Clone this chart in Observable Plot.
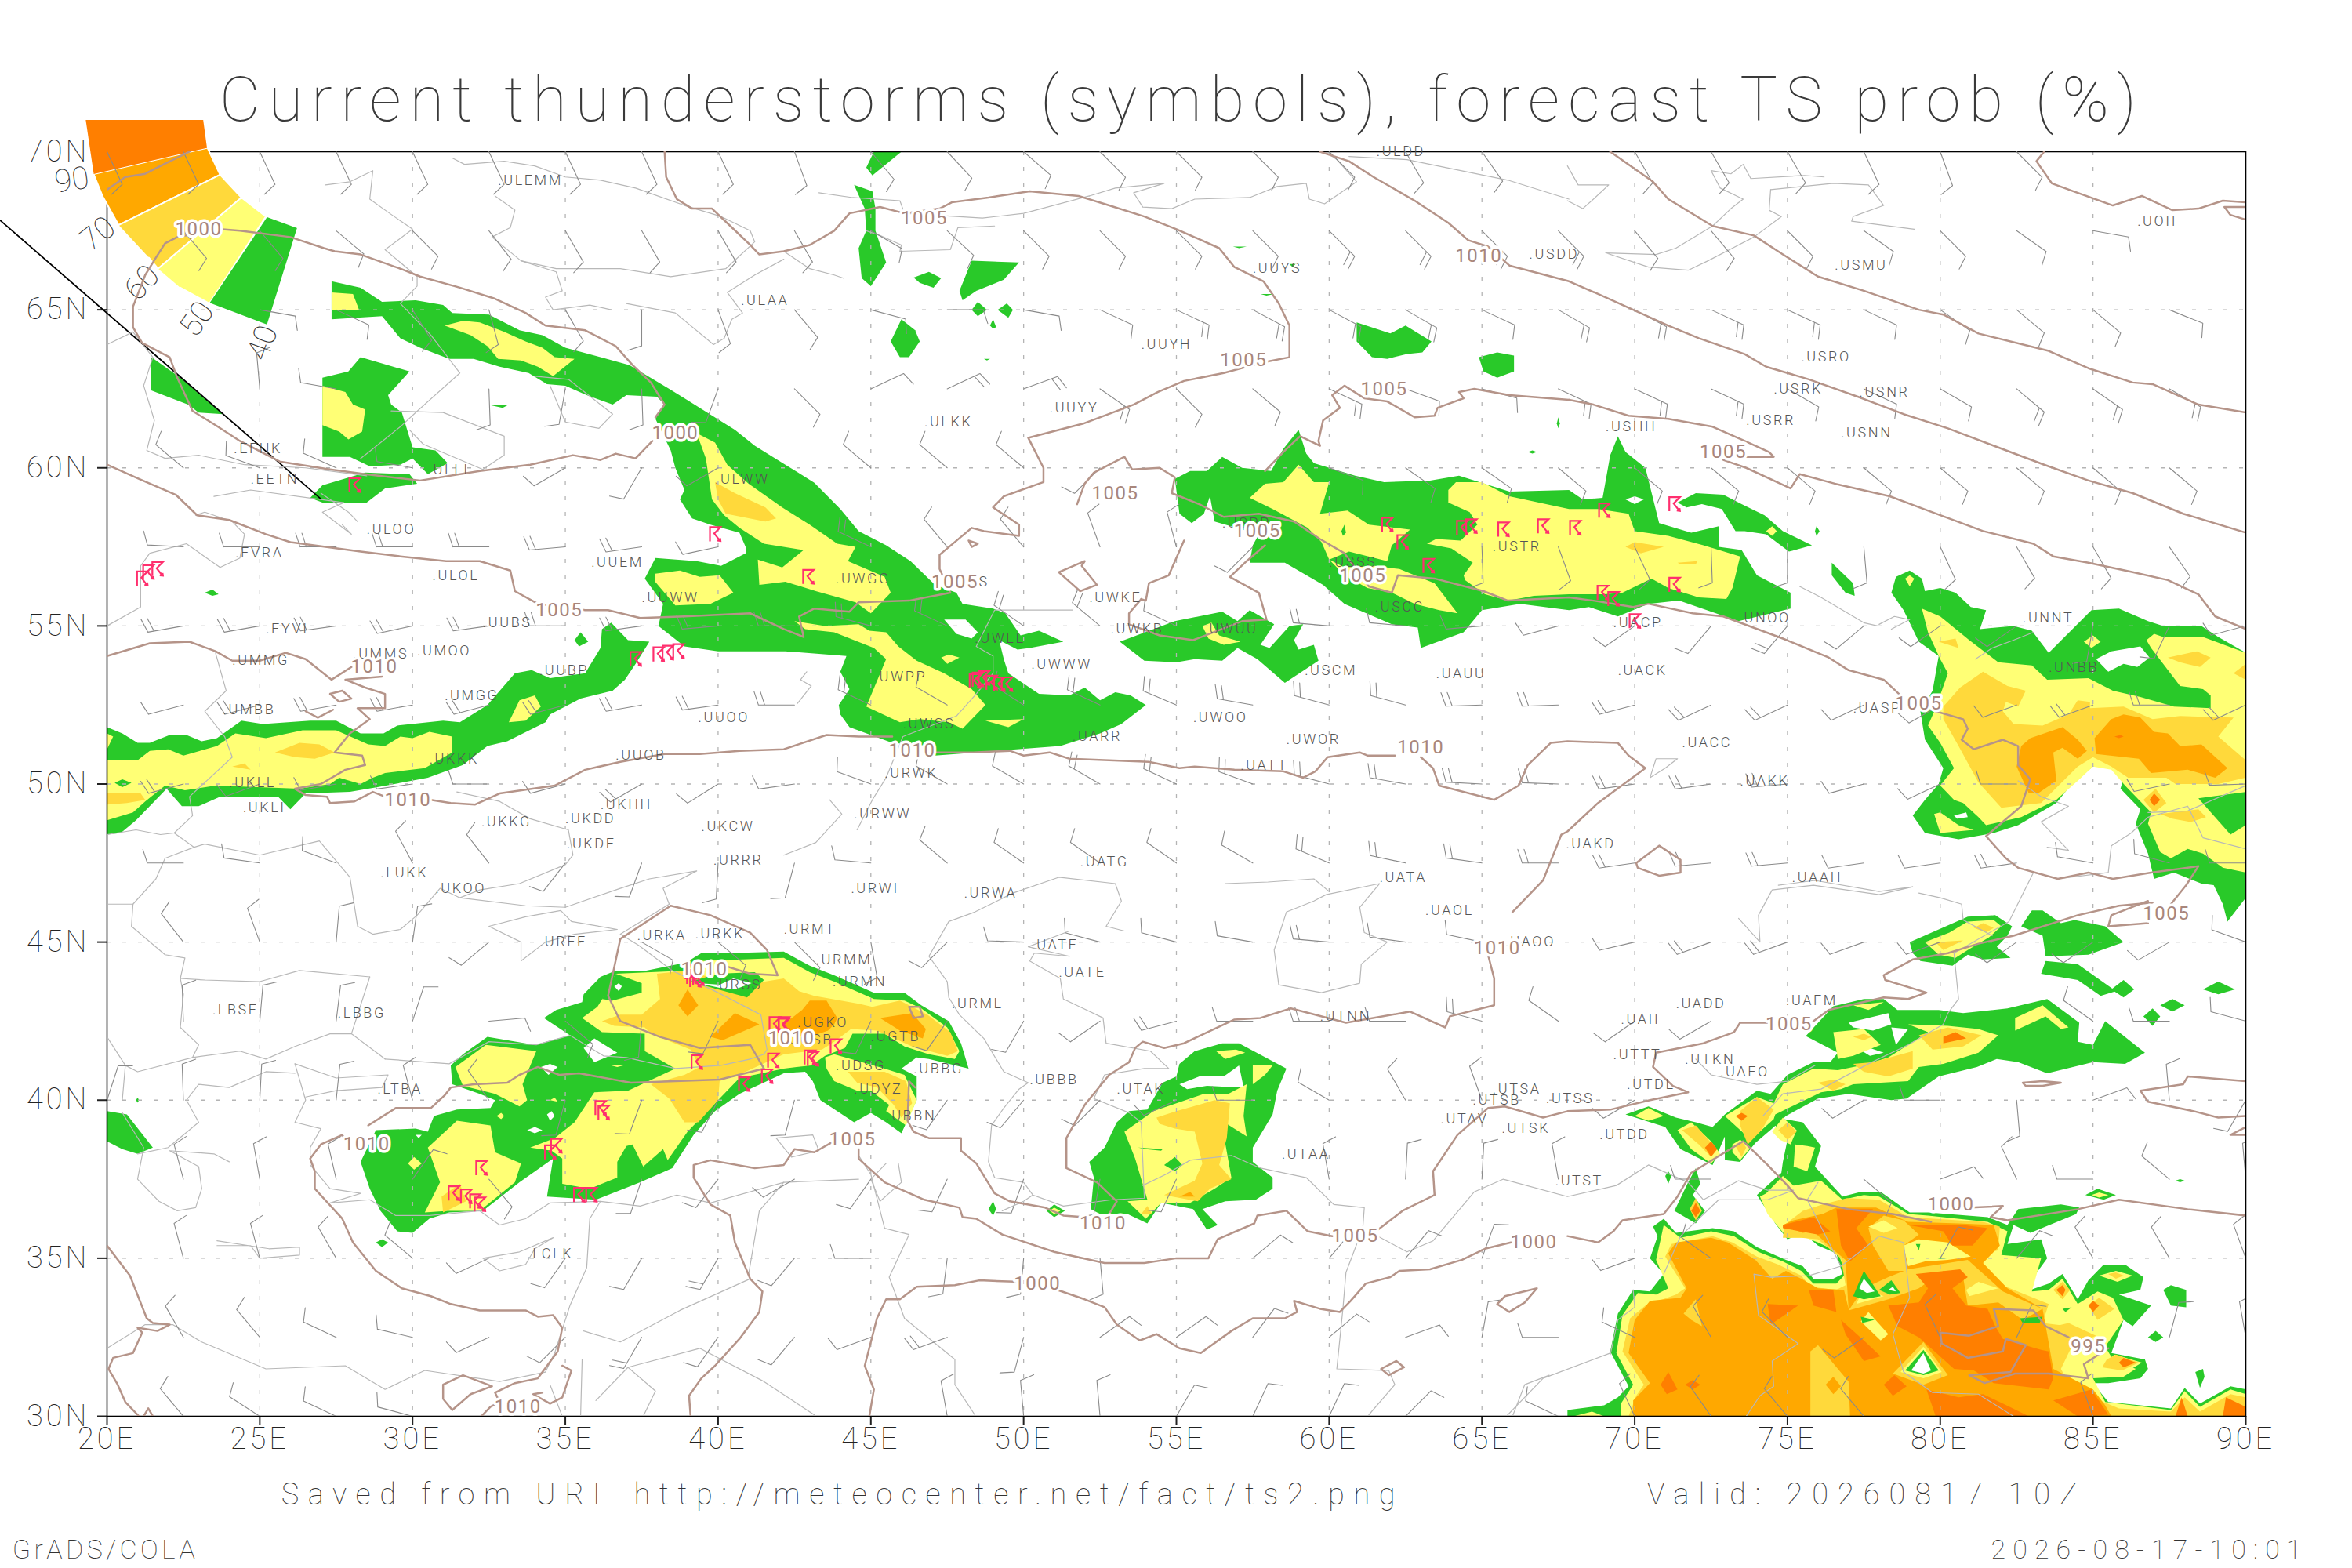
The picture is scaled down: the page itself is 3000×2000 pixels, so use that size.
<!DOCTYPE html><html><head><meta charset="utf-8"><style>html,body{margin:0;background:#fff}</style>
<script src="https://cdn.jsdelivr.net/npm/d3@7"></script><script src="https://cdn.jsdelivr.net/npm/@observablehq/plot@0.6"></script></head><body><script>
const lonTicks=[20,25,30,35,40,45,50,55,60,65,70,75,80,85,90];
const latTicks=[30,35,40,45,50,55,60,65,70];
const probColors={p40:"#29c929",p50:"#ffff75",p60:"#ffd93b",p70:"#ffa800",p80:"#ff7f00"};
const prob40=[
[27.35,65.9,28.3,65.7,29,65.25,30.1,65.3,31,65.15,31.3,64.9,32.5,64.85,33.5,64.35,34.25,64.2,35,63.8,36.15,63.5,37.1,63.25,38.4,62.5,39.4,61.9,40.55,61.2,41.2,60.7,42.2,60.1,43.15,59.53,44,58.7,44.6,58,45.5,57.55,46.3,57.05,47.1,56.3,47.8,56.05,48,55.7,49,55.55,49.4,55.4,49.9,54.7,50.5,54.85,51.3,54.5,50.2,54.3,49.8,54.25,49.2,54.55,49.35,53.95,49.5,53.5,50.5,52.85,51.5,52.8,52,53.05,52.5,52.65,53,52.9,53.5,52.8,54,52.5,53.2,51.9,52.5,51.6,51.2,51.2,47.1,50.9,47,51.2,45.7,51.3,44.3,51.8,44,52.2,43.95,52.5,44.3,53,44,53.55,44.2,54.05,42.2,54.2,40,54.2,38.9,54.35,38.05,55,38.2,55.7,37.6,56.5,37.95,57.15,39.3,57.05,40.1,56.9,40.9,57.3,40.9,57.5,40.7,57.95,39.75,58.2,39.15,58.4,38.75,59,38.9,59.3,38.6,60,38.45,60.55,37.95,61.55,38.25,62,38,62.25,37,62.3,36.55,62,35.7,62.3,35,62.6,34.4,62.65,33.8,63,32.85,63.2,32,63.45,31.2,63.45,30.25,63.8,29.6,64.1,29,64.8,27.35,64.7],
[20,51.8,20.5,51.6,21,51.3,21.4,51.3,22.05,51.55,22.6,51.55,23.1,51.35,23.6,51.45,24.4,52,25.1,51.9,26.65,52,27.5,52,28.3,51.6,29.05,51.6,29.5,51.85,31,52,31.55,51.95,32.45,52.5,33.35,53.5,33.9,53.6,34.5,53.35,35.65,53.5,36.15,54.3,36.2,54.9,36.5,55.1,37.05,54.55,37.75,54.5,37.3,53.8,36.95,53.3,36.55,52.95,35.5,52.7,34.5,52.2,34.35,51.95,33.1,51.35,32.45,51.2,31.65,50.6,30.5,50.2,28.85,49.9,27.95,49.75,26.5,49.7,26,49.2,25.6,49.6,23.7,49.6,23,49.3,22.45,49.3,21.95,49.85,20.95,48.85,20.45,48.45,20,48.4],
[35.3,54.55,35.5,54.8,35.75,54.5,35.45,54.35],[23.2,56.05,23.45,56.15,23.65,56,23.45,55.95],
[21.45,63.5,22.4,62.85,23,62.35,23.8,61.7,23,61.75,22.65,62,21.45,62.45],
[27.05,62.85,27.9,63.05,28.3,63.5,29.9,63.05,29.2,62.3,29.3,62,29.65,61.75,30,60.65,30.75,60.55,31.15,60.15,30.5,59.8,30,60.3,29.6,60.1,28.6,60.05,27.95,60.35,27.05,60.35],
[26.65,59.05,27.05,59.45,28.45,59.85,29.9,59.8,30.15,59.5,29.1,59.35,28.5,58.9,27.05,58.9],
[32.45,62,33.15,62,32.95,61.9],
[45.1,70,46,70,45.05,69.25,44.85,69.5],
[44.45,68.95,45.05,68.75,45.15,68.2,45.15,67.5,45.5,66.5,45,65.75,44.7,66,44.6,66.95,44.85,67.5,44.8,68.2],
[46.4,66.02,46.9,66.2,47.3,66,47.05,65.7,46.6,65.85],
[48.3,66.55,49.85,66.5,49.35,65.95,48.45,65.6,48,65.3,47.9,65.6],
[48.3,65,48.5,65.25,48.8,65,48.5,64.8],[49.15,65,49.45,65.2,49.65,65,49.5,64.75],[48.9,64.5,49,64.7,49.1,64.45,49,64.4],
[45.65,64,46,64.7,46.45,64.35,46.6,64,46.25,63.5,45.95,63.5],
[48.7,63.45,48.9,63.45,48.8,63.4],[56.85,67,57.3,67,57.05,66.95],[57.75,65.5,58.2,65.5,57.95,65.45],[58.7,66.45,58.9,66.45,58.8,66.35],
[60.9,64.6,62,64.25,62.5,64.5,63.35,64,63.05,63.65,62.55,63.6,61.9,63.45,61.4,63.5,60.9,64],
[64.9,63.5,65.5,63.65,66.05,63.55,66.05,63.05,65.5,62.85,65.05,63.05],
[67.45,61.4,67.5,61.6,67.55,61.4,67.5,61.25],[66.5,60.5,66.65,60.55,66.8,60.5,66.65,60.45],
[54.95,59.65,55.45,59.9,56,59.9,56.5,60.35,57.15,60,58.1,59.9,58.5,60.6,59,61.2,59.25,60.45,59.5,60.15,60.85,59.75,61.8,59.55,63.3,59.6,64.25,59.75,65.9,59.25,67.85,59.3,68.3,59,68.95,59.05,69.2,60.4,69.45,61,69.7,60.5,70.35,60,70.8,58.25,71.85,57.95,72.75,58.15,72.75,57.5,73.5,57.4,74,56.6,75.1,56.05,75.1,55.55,73.4,55.15,71.45,55.8,70.45,55.7,69.45,55.3,68.5,55.6,67.85,55.5,66.25,55.7,65,55.5,64.4,54.8,63,54.3,62.9,54.95,62.05,55.05,60.5,55.7,59.8,56.3,58.55,57,57.4,57,57.5,57.55,57.7,57.9,56.25,58.3,56.1,59.1,55.9,58.55,55.5,58.25,55.1,58.55],
[71.4,58.9,72,59.2,72.9,59.15,73.5,58.85,74.25,58.5,74.85,58,75.8,57.55,75.05,57.35,74.3,57.9,73.6,58,73.3,58,72.85,58.7,72.2,58.85,71.7,58.75],
[53.15,54.5,54.95,55.15,56.5,55.45,57,55.15,57.4,55.5,58.2,55.05,57.75,54.4,58.05,54.3,58.7,55,59.15,55.05,58.85,54.55,59,54.25,59.5,54.4,59.65,53.9,58.55,53.2,57.65,53.95,57,54.3,56.5,53.9,55.6,53.95,55,53.85,53.95,53.9],
[76.45,57,77.15,56.35,77.2,55.95,76.9,56.05,76.45,56.6],[75.9,58,75.95,58.15,76.05,58,75.95,57.85],
[78.4,56.05,78.55,56.55,79,56.75,79.4,56.5,79.5,56.1,80,56.2,80.5,56.05,81,55.6,81.5,55.5,81.3,54.9,82.4,55,83,54.85,83.55,54.15,84.95,55.5,85.85,55.55,86.8,55.15,87.3,55,88.55,55,89.1,54.65,90,54.15,90,46.4,89.4,45.65,89.25,46.2,88.95,46.8,88.55,46.85,87.65,47.2,87,47,86.8,47.8,86.4,48.75,86.55,49.2,85.9,49.85,86,50.2,85.5,50.55,85,50.55,84.35,50.05,83.8,49.4,82.55,48.7,81.75,48.45,80.6,48.25,79.5,48.45,79.1,49,79.5,49.5,79.95,50,80.1,50.5,79.5,51.4,79.35,52.3,79.75,52.95,79.95,54.05,79.3,54.5,78.8,55.5],
[79,45,80.9,45.8,81.8,45.85,82.35,45.5,82.2,45.2,81.85,44.85,82.3,44.5,81.4,44.45,80.9,44.6,80.4,44.25,79.35,44.4,79.1,44.65],
[82.65,45.5,83,46,83.35,46,83.95,45.6,84.4,45.7,85.4,45.5,86,45,84.85,44.6,83.45,44.55,83.35,45.2],
[83.45,44.4,84.5,44.3,85.75,43.45,85.25,43.3,84.5,43.8,83.3,44],
[85.6,43.5,86,43.8,86.35,43.5,86,43.25],[87.2,43,87.6,43.2,88,43,87.6,42.8],[88.6,43.5,89.1,43.75,89.65,43.5,89.1,43.35],[86.65,42.65,86.95,42.9,87.2,42.65,86.95,42.35],
[75.6,42.03,76.5,42.97,77.5,43.2,78.15,43.2,78.6,42.85,79.95,42.85,80.75,42.75,82.2,42.9,83.5,43.2,84.55,42.45,84.5,41.85,85,41.75,85.4,42.5,86.7,41.5,86.05,41.15,85,41.2,83.5,40.85,82.55,41.2,81.85,41.3,81.2,41.05,79.95,40.75,78.9,40.05,78.4,40,77,40.2,76,40.05,74.95,39.5,74.5,39.1,73.95,38.65,73.45,38.05,72.95,38.1,72.95,38.85,72.55,37.95,71.5,38.45,71,39.15,69.7,39.55,70.45,39.8,71.35,39.45,72,39.3,72.55,39.15,72.95,39.55,74,40.3,74.45,40.2,75,40.8,75.85,41.2,76.4,41.2,76.65,41.5],
[74.55,39.45,75.5,39.3,76.1,38.55,75.9,37.9,76.8,36.95,77.4,37.1,78.05,37.1,79,36.45,79.6,36.45,81.55,36.3,82.2,36.05,82.55,36.55,83.95,36.7,84.55,36.6,84.45,36.4,82.95,35.8,82.4,36.05,82.2,35.45,83.3,35.6,83.5,35,83.05,34.4,82.8,33.95,83.55,34.2,84,34.5,84.5,33.7,84.85,34.3,85.35,34.8,86.05,34.8,86.65,34.4,86.55,34,85.85,33.85,86.9,33.5,86.3,32.85,86,33.05,85.6,32,86.7,31.8,86.8,31.5,86.55,31.2,85.5,31.05,85,31.05,85.5,30.45,87.55,30.25,88,30.9,88.5,30.4,89.5,30.95,90,30.85,90,30,67.8,30,67.8,30.2,69,30.35,69.45,30.6,69.8,30.95,69.2,32.05,69.45,33.25,69.95,34,70.5,33.95,70.95,34.5,70.5,35,70.75,35.7,70.6,36,70.95,36.25,71.35,35.8,72.55,35.95,73.25,35.85,74,35.35,74.95,34.95,75.5,34.75,75.85,34.35,76.5,34.35,76.8,34.5,76.6,35.15,76,35.4,75.5,35.8,75,35.6,74.6,36.1,74,37,74.8,37.7,74.85,38.05,75,38.75,74.55,39.25],
[71.3,36.5,71.75,37.4,72,37.85,72.15,37.35,71.9,37,72.3,36.5,72,36.1],
[84.75,37,85.15,37.2,85.75,37,85.35,36.85],[87.3,34,87.55,34.15,88.05,34,88.05,33.45,87.55,33.5],[86.8,32.5,87.05,32.7,87.3,32.5,87.05,32.35],[88.35,31.4,88.6,31.5,88.65,31.25,88.5,30.9],
[71,37.6,71.1,37.75,71.2,37.6,71.1,37.35],[87.7,37.45,87.85,37.5,88,37.45,87.85,37.4],
[28.3,38.05,28.8,39.05,30.1,39.1,30.5,39,30.7,39.5,31.45,39.7,32.55,39.75,32.7,40,32.2,40.2,31.3,40.5,31.25,41.1,31.65,41.45,32.45,42,34,41.75,35.15,42.05,34.3,42.6,34.7,42.85,35.55,43.1,35.6,43.35,36.15,43.9,36.65,44.1,37.65,44.1,38.95,44.35,39.45,44.65,40.3,44.65,42.15,44.7,43,44.25,43.8,43.95,45.1,43.4,46.1,43.4,46.65,43,47.55,42.5,47.95,41.8,48.2,41,46.9,41.3,46.5,41.35,46,41,46.5,40.75,46.5,40,46,38.95,45.5,39.3,45,39.6,44.45,39.3,43.35,40,43.1,40.6,42.85,40.9,42.15,40.85,40.7,40.2,39.9,39.65,39.2,38.9,38.5,37.85,37.45,37.4,36,36.85,34.4,36.95,34.6,38.15,33.5,37.4,32.3,36.5,31.2,36.45,30.55,36.25,30,35.8,29.5,35.85,28.95,36.5,28.6,37.2],
[52.15,38.05,52.65,38.5,53.05,39.3,53.45,39.65,54.05,39.7,54.55,40.55,55,40.75,55.1,41.15,55.6,41.55,56.5,41.8,57.05,41.8,58.6,41,58.3,40.3,58.15,39.55,57.75,38.9,57.5,38.5,57.5,38.05,58.15,37.55,58.15,37.2,57.6,36.85,56.6,36.8,55.85,36.55,56.35,36.05,56,35.9,55.55,36.55,54.5,36.75,54.05,36.1,53.4,36.4,52.5,36.4,52.2,36.55,52.3,37.55],
[48.85,36.55,49,36.8,49.1,36.55,49,36.35],[50.75,36.5,51,36.7,51.35,36.5,51,36.3],
[20,39.65,20.65,39.55,21.5,38.5,21,38.3,20.5,38.45,20,38.7],[28.8,35.5,29,35.6,29.2,35.5,29,35.35],[20.95,40,21,40.08,21.05,40,21,39.92]
];
const holes=[
[47.4,55.2,48.1,55.2,48.5,54.8,48.3,54.6,47.8,54.75],
[85.1,53.95,85.6,54.2,86.55,54.35,86.85,54,86.45,53.7,86,53.8,85.5,53.55],
[80.45,49,80.85,49.1,80.9,48.95,80.55,48.9],[69.7,59,70,59.1,70.3,59,70,58.85],
[77,42.45,78.3,42.75,78.4,42.4,77.8,42.2,77.15,42.3],[78.4,42.3,78.95,42.25,78.55,41.75],[77.45,41.55,77.7,41.65,78.15,41.5,77.7,41.4],
[35.6,41.65,35.95,41.95,36.7,41.5,35.95,41.2],[34.2,41.05,34.5,41.15,34.75,41.05,34.45,40.8],
[55.1,40.5,55.75,40.75,56.55,40.75,57.05,41.1,57.2,40.4,57,40.4,56,40.45,55.35,40.35]
];
const prob50=[
[27.35,65.55,28.05,65.5,28.25,65,27.35,65],
[31.05,64.5,31.65,64.65,32.2,64.6,33,64.3,33.7,64,34.25,63.8,34.65,63.5,35.3,63.45,34.6,62.9,34.1,63.2,33.55,63.4,32.8,63.45,32.45,63.85,31.9,64.2],
[39.3,61.1,39.9,60.8,40.3,60.1,41,59.5,42.1,58.75,43,58.2,43.9,57.6,44.5,57.5,44.25,57.05,45.45,56.55,45.65,56.05,45,55.4,44.5,55.75,43.2,56.1,42.2,56.4,41.35,56.3,41.3,57.1,42.1,56.85,42.8,57.4,41.5,57.6,40.7,58.1,40.2,58.5,39.8,59,39.6,60.3],
[42.5,55.15,43.5,55,44.6,55.05,44.95,54.85,45.5,54.8,45.9,54.35,46.5,53.9,47.4,53.5,48.3,53,48.75,52.5,48,51.75,47.55,51.95,46.6,52.05,45.95,51.95,44.85,52.45,45.5,53.95,45.1,54.3,43.8,54.8,42.85,54.9],
[47.3,54,47.55,54.1,47.9,54,47.5,53.8],[48.75,52,50,52.05,49.5,51.8],
[37.94,56.4,37.94,56.65,38.75,56.75,39.4,56.55,40.05,56.6,40.5,56.05,39.75,55.7,38.6,55.65],
[20,50.75,21,50.75,21.4,51.05,22,51.1,22.5,50.9,23.6,51.2,24.2,51.6,25.2,51.45,26.4,51.7,27.5,51.7,28.55,51.25,29.1,51.2,29.6,51.5,30,51.45,30.55,51.65,31.3,51.5,31.3,51,30.4,50.5,29.1,50.35,28.7,50.2,28.3,50,27.6,50.2,27.3,50,26.3,49.85,23.55,49.95,22.55,49.8,21.9,49.95,21.25,49.45,20.85,49.1,20,48.85],
[20,51.6,20.2,51.5,20,51.1],[33.5,52.65,34,52.8,34.2,52.45,33.7,52,33.15,51.95],
[27.05,62.6,27.8,62.4,28.05,62,28.45,61.85,28.35,61.15,27.9,60.9,27.6,61.15,27.05,61.35],
[57.4,59.05,57.9,59.5,58.5,59.55,59,60.1,59.5,59.55,60,59.55,59.7,58.55,60.6,58.65,61.3,58.2,62.65,58.05,62.05,57.55,61.9,57.05,60.65,57.35,60,57.1,59.75,57.65,59.3,58.1,58.15,58.7],
[60,57.1,60.5,56.85,61.5,56.9,62.3,56.8,63.45,56.35,64.2,55.4,63.6,55.5,62.8,55.7,62.05,56.05,61.25,56.2,60.5,56.6],
[63.9,59.3,64.15,59.55,65,59.55,65.9,59.1,67.85,58.7,68.8,58.7,69.8,58.55,70,58,71.1,57.85,72.25,57.55,73.45,57.2,73.2,56.2,73,55.85,72.1,55.9,71.1,56.2,70.55,56.5,69.6,56.05,69,56,67.85,56,66.7,55.95,65.85,55.8,65.1,56,64.45,56.45,64.4,56.6,64.7,57,64,57.45,63.2,57.6,63.5,57.75,64.3,57.7,64.85,58.2,64.6,58.6,63.9,58.9],
[74.3,58,74.5,58.15,74.65,58,74.5,57.85],[55.85,55,56.15,55.1,56.4,54.7,57.1,54.5,56.55,54.4,56.05,54.6],
[79.4,55.55,80,55.3,80.95,54.55,81.9,53.85,83,53.75,83.5,53.3,84.85,53.35,85.65,52.95,86.55,52.75,87.65,52.45,88.85,52.4,88.85,52.8,88.6,53,87.85,53.1,86.9,54.3,86.75,54.55,87,54.75,87.3,54.65,88.6,54.65,90,54.15,90,47.2,89.25,47.35,88.6,47.8,88.1,47.95,87.55,47.65,87.2,47.85,86.8,48.75,86.9,49.1,86.05,49.95,85.6,50.45,85,50.55,84.5,50.1,83.8,49.5,82.65,48.95,81.5,48.7,81.25,48.95,80.75,49.4,80.45,49.5,80,49.95,80.45,50.5,80,51.3,79.6,51.85,79.85,52.4,80.25,53.5,80,53.95,79.6,54.8],
[79.8,49.05,80,49.1,80.6,48.7,81.1,48.55,80,48.45],[78.85,56.5,79,56.6,79.15,56.5,79,56.25],[84.7,54.5,85,54.7,85.25,54.5,84.95,54.3],
[79.5,45,80.3,45.3,80.9,45.65,81.75,45.7,82,45.5,81.6,45.15,80.9,44.75,80.5,44.5,79.95,44.6],
[78.95,42.4,80.25,42.35,81.25,42.25,81.9,42.05,81.25,41.5,80.1,41.15,79.3,41.05,78.95,40.6,77.15,40.5,76.75,40.35,76.1,40.25,74.6,39.55,74.55,39.4,73.8,38.75,72.95,39.5,74,40.1,74.55,39.9,74.85,40.5,75.85,41,76.65,40.95,77.65,41.15,78.3,41.35,78.95,41.75,79.6,42.15],
[70,39.5,70.45,39.75,70.95,39.5,70.45,39.35],[71.4,39.05,71.85,39.3,72.5,38.7,72.8,38.3,72.5,38,71.85,38.45],[73.2,38.6,73.45,38.75,73.8,38.5,73.45,38.1,73.2,38.35],
[77.15,43,78.15,43.1,77.65,42.85],[82.45,42.6,83.35,43,84.2,42.3,83.95,42.25,83.45,42.65,82.45,42.2],[76.5,42.15,77.5,42.25,78.05,41.75,77.15,41.4,76.65,41.3],
[74.5,39,74.85,39.45,75.3,39.05,75.1,38.6,74.75,38.75],[75.25,38.6,75.65,38.55,75.9,38.5,75.65,37.75,75.2,37.9],
[74.3,37.05,74.85,37.6,75.2,37.3,76.1,37.45,76.8,36.85,77.5,37,78,36.95,78.95,36.4,79.6,36.35,81.55,36.15,82.2,35.85,82,35.1,83.3,35,83,33.95,83.55,34,84,34.35,84.5,33.55,85.15,33.95,85.65,33.75,86,33.05,85.4,32.2,85.65,31.8,86.4,31.5,86,31.25,85,31.2,85.4,30.45,87.55,30.2,88,30.8,88.5,30.3,89.5,30.85,90,30.7,90,30,69.55,30,69.55,30.4,69.95,31,69.4,32,69.6,33.2,70.1,33.9,70.7,33.85,71.1,34.05,70.7,34.95,70.85,35.6,70.95,36.05,71.5,35.65,72.5,35.85,73.25,35.7,74.05,35.2,74.85,34.9,75.45,34.6,75.85,34.2,76.6,34.2,76.9,34.5,76.65,35.2,76,35.5,75.6,35.65,75,35.65,74.35,36.4,74.1,36.95],
[68,30,68.6,30.15,69,30],[85.2,34.45,85.75,34.6,86.3,34.45,85.8,34.25],[85.4,31.7,85.7,31.95,86.6,31.7,86,31.35,85.2,31.3],[84.95,37,85.2,37.08,85.5,37,85.2,36.92],
[31.4,41.05,32.4,41.75,34.05,41.55,33.6,40.5,33.75,40,33.5,39.8,32.7,40.2,31.65,40.45],
[30.5,38.5,31.45,39.35,32.55,39.2,32.7,38.35,33.55,38,33.35,37.4,32.2,36.5,31.15,36.5,30.4,36.45,30.9,37.4],
[36.4,43.5,36.65,44,38.95,44.1,39.45,44.4,42.15,44.5,43,44.05,43.8,43.75,45.1,43.2,46.1,43.15,46.65,42.9,47.5,42.3,47.9,41.55,47.75,41.3,46.9,41.45,46.1,41.7,45.45,42.1,44.4,42.1,44.15,41.65,43.5,41.4,43.05,41.1,42.15,41,40.7,40.7,39.75,39.75,39,39,38.35,38.1,38.2,38.45,37.55,37.9,37.2,38.6,37,38.55,36.7,38.05,36.7,37.55,35.8,37.2,34.9,37.35,34.9,38.15,34.55,38.4,33.85,38.5,34.65,38.8,35.3,39.3,35.95,40.25,37.05,40.3,38.6,41,37.6,41.55,37.6,42.1,36.2,42.15,35.55,42.6,36.05,42.95],
[43.5,41.35,43.8,41.45,45.45,41,46.1,40.8,46.5,40,46.15,39.2,45.5,39.65,45.6,39.85,45,40.3,44.55,40.3,43.8,40.6,43.55,41],
[29.85,38,30.05,38.2,30.3,38,30.05,37.8],[32.75,39.5,32.9,39.6,33,39.5,32.9,39.4],[34.5,40,34.65,40.08,34.75,39.95],[36.5,41.1,36.9,41.1,36.7,41.05],
[53.3,39,54.25,39.65,55.9,40.2,56.7,40.2,57.3,40.5,57.2,39.5,57.3,38.85,56.65,39.25,56.55,38.9,56.8,37.55,56.25,37.2,55.45,36.75,54.5,36.75,54,36.25,53.4,36.8,54.05,36.85,53.65,38.15],
[56.3,41.55,56.95,41.6,57.25,41.5,56.6,41.3],[57.5,41.1,58.15,41.1,57.9,40.8,57.5,40.5],[50.85,36.5,51,36.6,51.2,36.5,51,36.4]
];
const prob60=[
[39.9,59.55,40.55,59.2,41.55,58.75,41.9,58.4,41.55,58.3,40.25,58.55,40,59],
[25.5,51,26.3,51.3,26.95,51.25,27.45,51,26.8,50.8,26.15,50.85],[24.1,50.55,24.5,50.65,24.7,50.45],[20,49.7,21.1,49.7,21.25,49.5,20.65,49.4,20,49.35],
[69.7,57.5,70,57.65,70.95,57.5,70.2,57.3],[71.4,57,72.05,57.05,72,56.95,71.5,56.95],
[80.1,52.45,80.65,53.05,81.4,53.55,82.2,53.1,82.8,52.95,82.55,52.45,82.15,52.6,82.05,52.3,82.4,51.9,83.35,51.85,84.2,52.2,84.5,52.65,84.9,52.6,84.9,52.4,86,52.45,86.95,52.05,87.85,52.15,89.6,52.1,89.1,51.5,90,50.75,90,50.2,89.1,50,87.7,50,87.4,50.2,86.15,50.2,85.6,50.55,85,50.85,84.5,50.55,83.3,49.4,82,49.25,81.25,50.05,80.6,51.2,80.1,52.05],
[87.45,54,88.4,54.2,88.85,54,88.5,53.7,87.85,53.85],[89.6,53.5,90,53.8,90,53.3],[79.95,54.5,80.5,54.6,80.6,54.3],[86.65,49.5,87.05,49.85,87.4,49.4,87,49.1],[87.2,49.05,88.45,49.2,88.7,48.95,88.2,48.8,87.6,48.9],
[79.85,45,80.75,45.05,80.1,44.75],[81.1,45.45,81.4,45.6,81.75,45.45,81.5,45.3],
[71.55,39.05,72,39.2,72.55,38.6,72.5,38.2,72.1,38.6],[73.3,38.55,73.5,38.7,73.65,38.5,73.5,38.2],[73.45,39.65,74,40.1,74.55,39.7,74.15,39.05,73.7,38.6,73.45,39.2],[77.15,41.15,77.8,41.2,79.1,41.55,79.1,41,78.3,40.75,77.5,40.9],[79.3,42.05,80.25,42.3,81.35,42.05,80.75,41.7,79.75,41.6],[76,40.55,76.5,40.65,76.9,40.5,76.5,40.3],[77.15,42,77.5,42.1,77.75,42,77.5,41.9],[74.7,39.05,75,39.3,75.3,39,75,38.75],[71.8,36.55,72,36.9,72.2,36.5,72,36.2],
[74.9,36.05,75.5,36.5,76.15,36.7,76.95,36.9,78,36.85,78.95,36.3,81.4,36.15,81.95,36,81.9,35.25,81.1,35.05,81.9,34.2,83.55,33.55,83.35,32.95,84.2,32.85,84.35,32.3,83.95,31.5,84.2,31.05,84.85,30.65,85.85,30.25,87.55,30.15,88,30.6,88.5,30.15,89.5,30.7,90,30.6,90,30,69.8,30,70.05,30.65,70.3,31,69.6,32.05,69.85,33.1,70.35,33.5,71.35,33.85,71.65,34.05,71,35.05,71.2,35.45,72.55,35.7,73.2,35.5,74,35.05,74.7,34.8,75.45,34.45,75.75,34.1,76.6,34,76.9,34.15,76.75,35,76,35.6,75.45,35.65,74.85,35.65],
[84,34.25,84.25,34,84,33.7,83.7,34],[84.85,33.5,85.2,33.75,85.7,33.4,85.15,33.05],[83.55,32.8,84.2,32.95,85.1,32.55,84.75,32.4,84.2,32.55],[85.45,31.8,85.75,31.95,86.5,31.7,85.95,31.45,85.3,31.55],[85.5,34.5,85.75,34.55,86,34.45,85.75,34.35],
[36.2,42.5,36.8,42.7,37.5,42.7,38.1,43.2,38,44,38.95,44.1,40.05,43.8,40.9,43.65,42.15,43.85,42.65,43.45,43.15,43.3,44.6,43.05,45.05,42.95,45.95,43.15,46.85,42.7,47.6,42.15,47.85,41.55,47.5,41.4,46.35,41.7,45.2,42.2,44.35,42.25,43.8,41.85,43.4,41.6,42.15,41.45,40.9,40.9,40.05,40.6,40,40,39.35,39.3,38.9,39.3,38.4,40.05,37.8,40.5,38.9,40.8,39.4,41.05,39.1,41.6,37.8,42.1,37.6,42.3,36.6,42.35],
[44.25,40.9,45.45,40.9,46.15,40.6,46.35,39.9,46,39.45,45.75,39.85,45.2,40.4,44.55,40.55],
[30.95,36.95,31.55,37.35,31.75,36.8,31,36.45],
[54.35,39.45,55,39.65,55.55,39.8,56.25,40,56.75,39.9,56.65,38.8,56.4,37.95,56.8,37.5,56.1,37.2,55.7,36.8,54.6,37,55.6,37.45,55.85,38,55.6,39,54.95,39.1,54.45,39.25],[53.85,36.4,54.05,36.65,54.2,36.4]
];
const prob70=[
[82.65,51.2,82.95,51.45,84,51.8,84.5,51.4,84.8,51.05,84.5,50.8,84,51.15,83.7,51,83.8,50.1,83.2,49.7,82.9,49.7,82.5,50.55],
[85.05,51.45,85.6,52.05,86,52.2,86.55,52.1,87,51.65,87.45,51.6,87.85,51.2,88.55,51.25,89.4,50.5,89,50.2,88.1,50.45,86.9,50.35,86.5,50.8,85.1,50.95],
[38.7,43,39,43.5,39.35,43,39,42.65],[39.75,42,40.55,42.75,41.35,42.4,40.15,41.9],[42.15,42.4,42.75,42.85,43,43.15,43.55,43.15,43.9,42.6,43.8,42.4,43.6,42.2,43,42,42.15,42.05],[45.3,42.6,46.35,42.75,46.8,42.25,46.7,41.95,45.95,42.2],[55.1,36.95,55.45,37.1,55.6,36.95],
[74.85,36.05,75.2,36.2,76.15,36.4,76.6,36.6,77.9,36.6,78.95,36.15,80.6,36.1,81.75,36.05,81.95,35.4,81.4,34.85,82.2,34.05,83.35,33.4,83.5,32.6,83.7,31.5,85,30.85,85.4,30.35,85.6,30,69.95,30,69.95,30.5,70.5,31.05,69.8,32,70,33.05,70.5,33.65,71.5,33.75,71.7,34.05,71.1,35.15,71.35,35.5,72.5,35.65,73.05,35.5,73.95,34.95,74.5,34.35,74.95,34.6,75.45,34.35,76,34.05,76.85,34,77,33.4,76.9,34.95,76.4,35.35,75.85,35.85,75.5,35.8,75,36]
];
const prob60Over=[[77.65,35.95,78.15,36.35,78.8,36.2,79.3,35.75,78.8,35.4,78.95,34.6,78.3,34.6,77.8,35.4],[78.95,34.65,80.9,34.95,82.05,33.95,83.35,33.4,82.7,33.05,81.9,33.6,80.9,33.5,80.75,34.4,80.1,34.6,79.3,34.05,78.3,33.7,77,33.35,77.5,34.05,78.3,34.4],[71.6,33.25,72,33.7,72.2,32.85,71.85,33.05],[75.75,32.05,76,32.25,76.65,31.5,77,31.1,77.05,30,75.75,30],[78.45,31.35,79.45,32.35,80.25,31.3,79.45,31]];
const prob70Over=[[76.25,31,76.5,31.25,76.75,30.95,76.5,30.7]];
const prob50Over=[[78.8,35.4,79.3,35.6,80.25,35.5,81,35.05,80.25,34.95,79.5,34.9,78.95,34.75],[80.85,34,81.25,34.25,81.9,34.05,80.95,33.8],[77.65,36,78.15,36.2,78.6,35.95,78.15,35.8],[77.25,33.55,78.15,33.8,77.5,34.05],[77.65,33.3,78.3,32.6,78.05,32.4,77.4,33],[78.7,31.4,79.45,32.2,80.05,31.4,79.45,31.2]];
const prob80=[
[74.85,36.05,75.85,36.3,76.4,35.85,76,35.75,74.85,35.95],[76.6,36.55,77.8,36.55,77.25,35.95,77.65,35.4,77.05,34.9,76.75,35.4],[78.95,36.05,80.75,36.05,81.55,35.95,81.05,35.4,80.4,35.4,80.1,35.85],
[79.2,34.5,80.65,34.65,80.9,34.4,80.4,34.05,80.85,33.5,81.55,33.4,81.8,32.85,82.05,32.45,83.3,32.1,83.55,32.05,83.7,31.2,83.55,30.85,81.75,31.05,81.1,31.45,80.45,31.5,79.3,32.5,78.6,32.85,78.3,33.5,79.3,33.6,79.6,34.05],
[75.7,34,76.5,34,76.6,33.3,75.85,33.5],[74.35,33.55,75.35,33.5,74.45,32.9],[76.75,33.05,77.5,32.4,78.05,31.9,77.5,31.75,76.9,32.6],[79.55,30.85,80.6,30.6,81.4,30.7,82.05,30.4,82.9,30,79.85,30],[83.7,30.5,84.95,30.85,85.5,30.05,84.5,30],[87.9,30.6,88.1,30,87.7,30],[89.35,30.6,90,30.3,90,30,89.25,30],
[70.85,31,71.1,31.4,71.4,30.85,71.05,30.7],[71.65,31,71.9,31.15,72.15,31,71.9,30.85],[78.15,31,78.5,31.3,78.9,30.95,78.45,30.65],
[72.3,38.5,72.5,38.7,72.7,38.45,72.5,38.2],[73.3,39.5,73.5,39.6,73.7,39.5,73.5,39.35],[80.1,42,80.5,42.15,80.85,41.95,80.1,41.8],[86.85,49.5,87,49.7,87.2,49.5,87,49.3],[85.7,51.5,85.9,51.55,86,51.5,85.85,51.45],
[84.85,33.5,85,33.65,85.2,33.5,85,33.3],[83.8,34,84,34.15,84.1,34,84,33.8],[85.85,31.7,86,31.85,86.4,31.7,86,31.55],[71.85,36.5,72,36.75,72.15,36.5,72,36.3]
];
const patch40=[[60.4,58,60.5,58.2,60.55,57.95,60.45,57.85],[88.45,49.55,90,49.75,90,48.7,89.5,48.4],[20.25,50.04,20.5,50.15,20.8,50.04,20.5,49.9],
[36.2,43.2,36.65,44,37.5,43.7,37.5,43.4,36.55,43.15],[39.1,43.75,40,44,41.2,44.05,41.5,43.8,40.95,43.25,40,43.5],
[54.95,38.2,54.6,37.95,54.95,37.75,55.2,37.95],[53.75,38.5,54.55,38.45,54.5,38.4,54,38.45],
[77.15,33.8,77.5,34.6,78.05,33.8,77.5,33.7],[78,34,78.4,34.3,78.7,33.9,78.35,33.85],[78.85,31.45,79.45,32.1,79.95,31.45,79.45,31.3],
[77.4,33.15,77.85,33.05,77.45,32.95],[79.2,35.45,79.35,35.45,79.3,35.25],[79.8,35.02,80.5,35.02,80,34.98],[82.6,33.1,83.35,33.15,83.25,32.95,82.7,32.95],[84,33.4,84.3,33.45,84.1,33.3]
];
const patch0=[[36.6,43.6,36.75,43.7,36.85,43.6,36.75,43.45],[39.35,43.7,40.05,43.65,40.5,43.85,41.1,43.7,40.55,43.5,40.05,43.55],[33.75,39.05,34,39.15,34.25,39.05,34,38.95],[34.4,39.55,34.55,39.65,34.65,39.5,34.5,39.35],[30.1,38.9,30.3,38.9,30.2,38.8],
[77.5,34.35,77.85,33.95,77.6,33.9,77.35,34.05],[78.3,34,78.45,34.1,78.55,33.95],[79.05,31.45,79.45,32,79.7,31.45,79.45,31.35]];
const legendBands=[{c:"#ff7f00",p:[19.3,71.03,23.17,71.03,23.3,70.1,19.57,69.27]},{c:"#ffa800",p:[19.57,69.27,19.85,68.6,20.38,67.68,23.7,69.27,23.3,70.1]},{c:"#ffd93b",p:[20.38,67.68,23.7,69.27,24.4,68.55,21.67,66.3,21.37,66.65]},{c:"#ffff75",p:[21.67,66.3,24.4,68.55,25.2,67.95,23.35,65.2,22.4,65.7]},{c:"#29c929",p:[25.25,67.95,26.25,67.6,25.25,64.5,23.35,65.2]}];
const legendLabels=[{t:"90",lon:18.85,lat:69.1,a:-8},{t:"70",lon:19.7,lat:67.4,a:-38},{t:"60",lon:21.15,lat:65.85,a:-47},{t:"50",lon:22.95,lat:64.7,a:-55},{t:"40",lon:25.1,lat:63.95,a:-70}];
const leaderLine=[{lon:16.5,lat:67.83},{lon:27.02,lat:59}];
const isobars=[
[20,68.8,20.6,69.2,21.25,69.3,21.75,69.55,22.7,70],
[38.25,70,38.3,69.2,38.65,68.5,39.15,68.2,39.8,68.2,40.4,67.65,41.05,67.05,41.35,66.75,42.15,66.85,43,67.05,43.8,67.5,44.3,68.05,45.3,68.25,46.1,68.05,47.25,68.2,47.65,68.4,48.85,68.55,50.2,68.75,51.8,68.6,52.8,68.3,53.95,67.95,55,67.55,56.4,66.95,56.9,66.35,57.85,65.9,58.35,65.2,58.7,64.5,58.7,63.5,57.9,63.35,56.55,63,55.25,62.75,54.4,62.4,53.6,62,51.95,61.4,50.15,60.95,50.65,60,50.65,59.55,49.35,59.1,49,58.75,49.85,58.2,49.85,57.85,48.7,58,48.3,58.1,47.25,57.25,47.25,56.8,47.6,56.05,46.25,55.8,44.6,55.75,44.3,55.45,43.15,55.55,42.65,55.3,42.8,54.65,42.15,54.9,41.05,55.4,38.9,55.3,37.45,55.25,36.4,55.5,35.65,55.5,34.1,55.7,33.35,56.1,33.2,56.75,32.2,57.05,31.1,57.05,29.6,57.2,28.3,57.35,27.15,57.5,26,57.65,25.2,57.9,24,58.35,22.95,58.5,22.25,59.15,21.05,59.65,20,60.1],
[37.95,61.6,38.25,62,37.8,62.7,37.2,63.25,36.65,63.85,35.65,64.35,34.35,64.5,33.7,64.9,32.7,65.35,31.55,65.7,30.25,66.05,29.6,66.3,28.3,66.75,27.45,66.85,27.1,66.95,26,67.3,24.35,67.5,23.7,67.55,22.3,67.3,21.9,67.1,21.6,66.65,21.25,66.1,20.85,65.1,20.85,64.45,21.15,63.95,22.05,63.5,22.3,62.85,22.8,61.8,23.55,61.35,24.35,60.85,25.65,60.2,27.3,59.95,28.45,59.8,30.25,59.6,32.2,59.9,33.85,60.1,35.25,60.4,36.15,60.25,36.65,60.45,37.3,60.3,37.85,60.85],
[59.7,70,60.65,69.7,61.45,69.2,62.8,68.45,63.9,67.75,64.55,67.2,65.2,67,65.9,66.4,67.85,65.9,68.8,65.5,69.95,65,71.1,64.5,72.1,64.1,73.6,63.6,74.3,63.2,75.7,62.8,77.3,62.25,78.8,61.7,80.25,61.25,81.75,60.7,83.4,60.1,84.85,59.6,86.3,59.2,87.95,58.55,90,57.95],
[69.2,70,70.6,69.05,71.1,68.5,72.55,67.65,73.9,67.35,74.85,66.75,76,66.05,77.5,65.6,79.3,65,80.1,64.85,81.25,64.25,83.55,63.7,84.85,63.15,86.3,62.7,86.95,62.65,88.45,62,90,61.75],
[83.4,70,83.15,69.7,83.65,69,84.35,68.75,85.65,68.3,86.6,68.6,87.6,68.15,88.45,68.2,89.25,68.45,90,68.4],[90,68.25,89.3,68.25,89.5,68,90,67.85],
[90,54.9,89,55.3,88.45,56,87.45,56.45,86.3,56.7,84.85,57,83.7,57.2,83.05,57.6,81.4,58,79.45,58.7,78.35,59.1,76.55,59.5,75.4,59.8,75.1,59.35,73.65,60,72.9,60.25],
[67.85,62.15,68.65,62,69.8,61.65,71.1,61.55,72.55,61.3,73.6,60.85,74.4,60.5,74.55,60.35,73.5,60.35],
[67.85,62.15,65.9,62.3,64.75,62.5,64.25,62.4,64.4,62.2,63.55,61.9,63.45,61.65,62.8,61.6,61.9,62.1,61.15,62.2,60.5,62.6,60.1,62.3,60.35,61.9,59.8,61.5,59.65,60.85,59.7,60.7,59.05,61,58.55,60.55,57.9,59.9],
[51.75,58.85,52,59.5,52.3,59.85,53.3,60.35,53.55,59.95,54.45,60,54.95,59.7,54.85,59.2,55.75,58.85,56.55,58.45,57.7,58.55,58.85,58.3,59.7,57.75,60.5,57.3,61.3,56.25,62.05,56.05,62.25,56.6,63.45,56.5,64.25,56.3,65.05,56.1,65.85,55.8,67.85,55.9,68.65,55.8,69.95,55.6,70.45,55.7,71.9,55.4,72.9,55.3,74.85,54.6,76.35,54,77,53.6,78.15,53.3,78.65,52.85],
[79.85,52.3,80.75,52.05,80.9,51.75,80.7,51.4,81.1,51.1,82.05,51.4,82.55,51.2,82.55,50.6,82.95,50.15,82.65,49.3,81.5,48.35,82.15,47.65,82.55,47.35,83.85,47,84.85,47.2,85.65,47,86.9,47.2,88.45,47.4,88.05,46.8,87.55,46.2],
[86.95,46.25,85.85,46.15,84.5,45.85,83.05,45.4,82.4,45.2,81.25,44.95,80.25,44.65,79.1,44.45,78.15,43.95,78.2,43.8,79.55,43.4,78.95,43.2,78.15,43.25,76.35,42.85,75.85,42.5],
[86.8,46.3,85.6,45.85,85.5,45.5,86.8,45.6],
[74.35,42.45,73.45,42.45,73.25,42.15,72.25,41.8,70.7,41.5,70.6,41.05,71.25,40.45,71.75,40.25,70.5,40,69.2,39.7,67.8,39.65,67,39.45,65.75,39.8,65.2,39.75,64.2,38.9,63.4,37.75,63.45,37,62.4,36.5,61.6,35.9],
[60.1,35.7,59.3,35.85,58.6,36.5,57.65,36.35,57.55,36.1,56.35,35.6,56.05,35,55,35,53.95,34.85,52.65,34.85,51,35.2,49.3,35.75,48.45,36.25,48,36.3,47.9,36.6,46.75,36.85,45.45,37.4,44.6,38.15,44.6,38.45],
[43.7,38.65,43.15,38.35,42.5,38.45,42.15,37.95,41.2,37.85,39.75,38.1,39.2,37.95,39.2,37.55,39.75,36.7,40.4,36.35,40.55,35.5,41.05,34.35,41.45,33.95,41.35,33.3,40.7,32.45,39.9,31.6,39.45,31.2,39.05,30.65,39.1,30],
[67.8,35.7,68.8,35.5,69.3,35.85,69.6,36.2,70.95,36.4,71.4,36.95,71.85,37.7,73.55,38.7,74.35,37.95,75,37.3,75.35,36.9,77,36.55,78.45,36.4,79.7,36.15],
[81,36.6,82.05,36.65,81.65,36.3,82.2,36.2,84.5,36.55,85.85,36.85,88.1,36.55,90,36.35],
[65.95,35.5,65.1,35.3,64.35,34.95,63.3,34.65,62.3,34.6,62,34.4,61.2,34.2,60.7,33.65,60.35,33.3,59.7,33.4,58.85,33.65,58.95,33.3,58.55,33.1,57.5,33.1,56.8,32.7,55.8,32,55.1,32.15,54.35,32.6,53.8,32.4,53.05,32.9,52.65,33.45,52,33.7,51.1,34],
[49.9,34.25,48.55,34.3,47.75,34.15,46.5,34.1,45.95,33.7,45.5,33.7,45.2,33.1,44.8,31.6,45.1,30.85,44.95,30],
[28.55,39.2,29.45,39.75,30.6,39.75,31.05,40.15,31.25,40.4,32,40.5,33.1,40.55,33.5,40.8,34.1,41.05,34.8,40.8,35.45,40.85,37.15,40.55,38.6,40.6,40.05,40.65,41.5,41,41.05,41.75,39.4,41.65,38.1,42,36.8,42.5,36.4,43.3,36.8,45.1,38.45,46.15,39.75,45.85,41.05,45.3,41.6,44.75,41.95,43.95,41.05,44,40.05,44.3],
[27.9,38.6,27.7,38.9,27,38.6,26.65,38.15,26.8,37.75,26.8,37.2,27.7,36.25,28.05,35.5,28.8,34.6,29.65,34.05,30.6,33.8,31.25,33.55,32.2,33.35,33.7,33.35,34.1,33.15,34.6,33.2,34.9,32.8,34.75,32.05,34.1,31.2,33.35,31.05,32.7,30.75,32.85,30.45,32.55,30.3,32.25,30],
[34.9,31.6,35.2,31.45,34.9,30.6,34.5,30.4,33.95,30.7,34.25,30.75],
[31,30.55,31,31,31.65,31.3,32.6,30.95,31.9,30.7,31.3,30.2,31,30.55],
[20,35.4,20.75,34.45,21.3,33.1,21.5,32.95,22.05,32.9,21.65,32.7,21,32.8,21.15,32.65,20.85,32,20.2,31.85,20.05,31.5,20.35,31,20.6,30.45,21.05,30],[21.2,30,21.35,30.25,21.5,30,21.4,29.9],
[52,36.3,51.3,36.35,50.7,36.6,49.55,36.8,49.05,37.05,48.45,38,47.95,38.4,47.95,38.8,46.9,38.8,46.4,39,46.2,39.35,46.25,40.6,46.45,40.4],
[52.8,36.4,53.05,36.8,52.4,37.4,51.4,37.85,51.4,38.8,52,39.85,52.8,40.8,53.45,41.2,53.65,41.65,53.9,41.85,54.6,41.65,55.25,41.8,56.9,42.55,57.75,42.6,58.75,42.9,60.55,42.45,62.65,42.8,63.8,42.3,63.95,42.65,65.4,43,65.4,43.85,65.2,44.6],
[66,45.95,67,46.95,67.6,48.4,67.8,48.5,68.8,49.4,70.35,50.5,69.8,50.9,69.45,51.3,67.8,51.35,67.25,51.3,66.5,50.6,66.2,49.95,65.4,49.5,63.6,49.95,63.4,50.5,63,50.85],
[62.15,50.9,61.25,50.9,61,51,59.95,50.85,59.55,50.4,59.15,50.2,58.5,50.4,56.9,50.45,55.6,50.55,55.1,50.5,54.1,50.7,52.8,50.75,51.5,50.8,50.85,51,50,50.9,49.55,51.05,48.35,51,47,51],
[45.7,51.5,44.6,51.5,43.55,51.55,42.15,51.1,40.7,51.05,39.4,50.95,38.25,50.95,36.8,50.7,35.65,50.45,34.65,49.95,32.85,49.7,32.05,49.35,31.25,49.4,30.6,49.5],
[29.1,49.6,28.7,49.75,28.1,49.45,27.3,49.4,27.2,49.6,26.5,49.65,26.15,49.85,27,50,27.8,50.45,28.45,50.6,28.35,50.9,27.45,51,27.95,51.6,28.6,52.05,28.2,52.4,29.1,52.4,29.1,52.85,28.45,53.05,27.8,53.3,29,53.4],
[28,53.7,27.35,53.3,26.5,53.95,25.85,54.15,25,53.9,24.1,53.9,23.55,54.2,22.7,54.5,21.4,54.45,20,54.05],
[27.7,52.95,28,52.7,27.6,52.6,27.3,52.85,27.7,52.95],[26.5,52.3,26.9,52.1,27.4,52.35],
[90,40.6,88.1,40.75,87.95,40.5,86.55,40.3,86.8,39.95,88.3,39.65,89.1,39.45,90,39.5],[82.7,40.55,83.35,40.6,83.95,40.55,83.35,40.45,82.8,40.45,82.7,40.55],[90,39.15,89.5,38.9,90,38.9],
[70.05,47.5,70.8,48.05,71.5,47.6,71.5,47.2,70.8,47.1,70.1,47.35,70.05,47.5],[61.7,31.5,62.2,31.75,62.45,31.55,61.95,31.3,61.7,31.5],[65.5,33.55,65.75,33.8,66.8,34.05,66.4,33.6,65.9,33.3,65.5,33.55],
[84.2,32.5,83.45,32.85,83.05,33.35,81.75,33.4,81.9,32.85,80.95,32.55,80,32.65,80.05,32.3,80.9,31.85,82.05,32.05,82.15,32.45,82.8,32.25,82.3,31.4,80.95,31.3,81.45,31.05,82.45,31.35,83.55,31.35,84.85,31.2,84.7,31.65,85.5,32.15],
[52,57.05,51.15,56.7,51.85,56.1,52.4,56.3,51.9,56.9,52,57.05],[53.85,55.85,53.45,55.4,53.45,55.05,54.45,54.7,55.55,54.55,57.15,55.15,57.95,55.2,57.7,56.05,56.75,56.55,57.3,57.05,57.9,57.55],[55.25,57.7,54.75,56.6,54.1,56.35,54,55.8,53.85,55.85],
[46.25,42.95,46.6,42.95,46.7,42.65,46.4,42.6,46.25,42.95],[48.2,57.7,48.5,57.6,48.3,57.5,48.2,57.7]
];
const isobarLabels=[
{t:"1000",lon:23,lat:67.55},{t:"1000",lon:38.6,lat:61.1},{t:"1005",lon:46.75,lat:67.9},{t:"1005",lon:57.2,lat:63.4},{t:"1005",lon:61.8,lat:62.5},{t:"1005",lon:53,lat:59.2},{t:"1005",lon:57.65,lat:58},{t:"1005",lon:61.1,lat:56.6},{t:"1005",lon:47.75,lat:56.4},{t:"1005",lon:34.8,lat:55.5},{t:"1005",lon:79.3,lat:52.55},{t:"1005",lon:87.4,lat:45.9},{t:"1005",lon:75.05,lat:42.4},{t:"1005",lon:44.4,lat:38.75},{t:"1005",lon:60.85,lat:35.7},{t:"1005",lon:72.9,lat:60.5},
{t:"1010",lon:64.9,lat:66.7},{t:"1010",lon:28.75,lat:53.7},{t:"1010",lon:29.85,lat:49.5},{t:"1010",lon:46.35,lat:51.05},{t:"1010",lon:63,lat:51.15},{t:"1010",lon:65.5,lat:44.8},{t:"1010",lon:39.55,lat:44.15},{t:"1010",lon:28.5,lat:38.6},{t:"1010",lon:52.6,lat:36.1},{t:"1010",lon:33.45,lat:30.3},{t:"1010",lon:42.4,lat:41.95},
{t:"1000",lon:50.45,lat:34.2},{t:"1000",lon:66.7,lat:35.5},{t:"1000",lon:80.35,lat:36.7},{t:"995",lon:84.85,lat:32.2}];
const coast=[
[27.15,68.95,27.95,69.05,28.7,69.4,28.6,68.5,29.25,68.05,30,67.55,29.1,66.9,30.15,66.05,30.15,65.75,29.6,65.2,30.6,64.2,31.55,63,30.1,61.75,29.6,61.3,28.7,60.6,28.3,60.3],
[31.3,69.8,31.7,69.6,33,69.7,34,69.55,35,69.2,36.15,69.1,37.3,68.85,38.9,68.3,40.1,67.95,41.05,67.5,41.2,67.15,40.25,66.3,38.45,66.05,36.8,66.3,34.7,66.3,33.55,66.55,32.6,67.3,33.2,67.6,33.35,68.15,32.7,68.6],
[33.55,66.55,34.7,66.2,34.9,65.6,34.35,65.4,34.6,65,35.8,65.15,36.5,65],
[42.15,66.6,41.2,66.1,40.3,65.55,40.8,64.9,40.45,64.7,40.2,64.1,39.85,63.9,38.6,64.9,37,65.2],
[29.3,61.8,31,61.75,33,61,33,60.4,32.3,59.95,30.35,60.75,29.9,61.2],[34,62.9,35.1,62.8,36.55,61.7,36.1,61.25,35,61.45,34.5,62.6],
[20,63.9,20.85,64.3,21.5,63.5,21.2,62.6,21.55,61.5,21.3,60.55,21.9,60.3,23,60.4,24.5,60.1,26.5,60,28.5,59.75],
[23.5,59.1,24.7,59.3,27,59,27.75,58.9,27.05,58.6,28,57.9,27.7,58.2],
[21.1,56.9,21.1,55.6,20,55],[21.1,56.9,21.4,57.3,22.6,57.6,23.7,56.85,24.35,57.15,24.5,57.9,24.1,58.3,23.2,58.6,22.9,58.5],
[23.55,54.15,23.9,52.95,23.2,52.3,23.85,51.5,24.1,50.85,22.7,49.6,22.8,49,22.2,48.45,21.75,48.4,20.95,48.55,20,48.4],
[22.2,48.45,22.85,48,23.2,48.1,25,47.75,26.3,48.05,26.95,48.2,27.95,47.05,28.2,45.5,28.7,45.25,29.6,45.4,30.15,45.85,30.9,46.7,31.55,46.4,32.2,46.65,33.5,46.85,35,47.45,35.25,47.75,35.1,48.55,33.85,48.9,32.85,49.45,31.45,49.75],
[31.55,46.4,33.7,46.15,35,46.1,36.8,46.7,37.75,47,39.3,47.25,38.2,46.7,38.4,46.2,36.8,45.25,37.4,44.9,38.5,44.1,40,43.4,41.4,42.7,41.6,41.6,41.5,41.45],
[33.7,45.8,32.5,45.5,33.55,45,33.55,44.4,34.35,45,35.3,45.25,36.7,45.4,35.2,45.65,34.85,46,33.7,45.8],
[29.1,41.3,31.2,41.15,32.5,41.85,34.05,41.75,35.15,42.05,36.25,41.4,37,41.35,38.6,41,40.1,41.1,41.05,41.3,41.5,41.45],
[20,46.2,20.85,46.2,20.8,45.5,21.9,44.6,22.55,44.5,22.4,43.85,23.2,43.8,25,43.75,26.3,44.1,28.6,43.9],[20.85,46.2,21.6,47,21.9,47.65,22.85,48],[28.6,43.9,28,42.1,29.1,41.3],
[22.4,43.85,22.5,43.35,22.4,42.3,23,41.75,22.8,41.35,24.35,41.55,25.2,41.3,26.15,41.7,27.3,42.1,28,42.1],[20.6,41.1,21,40.9,22.8,41.35],[20,42,20.6,41.1,20.5,40],
[20.5,39.6,21.2,38.5,21,37.5,21.7,36.8,22.3,36.5,22.9,36.6,23.1,37.2,23,37.9,22.05,38.4,23.5,38.3,24,38.05],[21,38.3,22,38.5,23,39.3,22.6,40,23,40.5,24,40.4,25.2,40.9,26.15,40.85],
[26.15,41.15,26.5,40,26.15,39.3,27,39.1,26.65,38.5,26.65,37.95,27.3,37.2,28.3,37.05,27.3,36.75,28.6,36.85,29.45,36.35,30.55,36.35,32.2,36.5,32.85,36.05,33.7,36.25,34.5,36.75,36.15,36.8,35.8,36.25,35.7,34.7,35.15,33.5,34.65,32,34.35,31.4,32.85,31.1,30.4,31.45,29.1,30.85,27.8,31.6,25.2,31.5,23.1,32.35,22.15,32.9,21.25,32.9,20,32.15],
[26.15,41.15,27.5,40.7,29.2,40.8,29,40.4,27.5,40.3,26.5,40.1],
[36.15,36.8,37.45,36.65,38.65,37,39.75,36.75,42.15,37.4,44.6,37.5],[41.05,34.35,38.75,33.35,36.8,32.35,35.6,32.7],[37.05,31.55,39.4,32.15,41.5,31.1,44,29.5],[37.05,31.55,37.95,30.8,37.55,30],[37.05,31.55,36,30.5],[34.9,30,34.5,31],[35.5,30,35.55,31.8],[42.15,37.4,41.35,36.5,41,34.5],
[23.6,35.4,24.7,35.4,25,35,26.3,35.1,26.3,35.35,25.3,35.3,23.6,35.55],[32.3,35,33.5,35.2,34.6,35.65,34,35.3,33.7,34.8,32.85,34.6,32.3,35],
[41.9,38.8,43.1,38.9,43.3,38.4,42.4,38.2,41.9,38.8],[45.9,38,46,37.4,45.3,36.8,45,37.5,45.5,38],
[47.55,43.25,47.9,42.7,48.7,41.95,49.35,40.9,50.15,40.55,49.85,40.35,49.35,39.75,48.95,39.2,48.85,38.05,49.05,37.55,50,37.4,50.3,37,51.3,36.65,52.9,36.85,53.95,36.9,53.85,39.3,53.45,39.6,52.3,40.05,52.65,40.8,53.95,41,54.75,41,54.15,41.55,52.7,41.8,52.6,42.6,51.95,42.9,51.3,43.2,51.2,43.85,50.2,44.4,50.35,44.65,51.5,44.55,50.15,44.85,51.5,45.35,53.3,45.35,52.7,45.5,53.2,46.3,53,46.85,51.15,47.05,49.65,46.55,48.4,45.95,47.55,45.65,46.9,44.55,47.5,43.75,47.55,43.25],
[58.2,44.75,58.6,45.95,59.5,46.3,59.9,46.5,61.65,46.85,61,46.1,61.15,45.3,61.9,45,61.05,44.3,61,43.7,59.75,43.4,58.35,43.65,58.2,44.75],
[73.4,45.75,74.1,45,74.05,45.85,74.5,46.65,75.85,46.8,78,46.5,79.1,46.75,78,46.6,75.9,46.95,74.7,46.8],
[83.05,47.2,82.25,45.65,80.45,44.65,80.6,43.2,80.25,42.75,80.1,42.4,78.95,41.75,77.65,41.15,76.1,40.35,74.85,40.2,74.2,39.5],
[72,41.3,72.5,40.8,74,40.5,75,40.6,75.9,41.1],[69.95,34,70,33.45,69.45,33.05,69.2,31.95],
[70.95,34.5,71.5,35.7,72.75,36.85,74.35,36.85,75.2,37.15,74.35,37.15,73.4,37.45,72.25,36.85,71.75,37.4,70.45,37.95,69.4,37.3,67.8,36.95,65.7,37.5,64.75,37.1,63.4,35.55,62.55,35.2,61.1,35.95],
[74.45,34.4,73.9,34.5,74.05,33.2,75.35,32.3,74.5,31.75,74.55,30.95,74.1,30.65,73.65,30],
[74.45,34.4,75.7,34.45,76.75,34.75,77.5,35.3,78,35.7,78.8,35.5,79,33.75,78.45,32.6,78.8,31.4,79.75,30.75,81.25,30.7,82.4,30],[76,37.4,75.65,36.85,76.75,34.75],
[44.6,38.25,45,37.65,45.45,35.95,46.25,35.75,45.6,34.4,46.1,33.1,47.75,31.8,47.75,31,48.4,30.05],
[60.45,33.4,60.55,34.55,61.1,35.95,61.15,36.6,60.15,36.7,59.25,37.55,57.75,37.85,56.8,38.25,55.45,38.1,54.65,37.65,53.9,37.3],[60.45,33.4,60.25,31.5,61.95,31.45,62.15,31,61.3,30.05],[67.2,31.3,66.4,31,66,30],[65.7,29.9,67,31.2,69.2,32],
[74.45,68.8,76.5,69,77.65,68.95,78.15,68.3,77.15,67.95,77.1,67.8,79.15,67.55],[74.45,68.8,74.4,68.15,74.8,67.95,73.9,67.3,73.2,66.95,72.4,66.55,71.75,66.25,70.45,66.35,69.05,66.8,70.7,66.75,71.35,66.95,72.55,67.65,73.15,68.2,73.55,68.5,72.8,68.85,72.5,69.4,73.15,69.3,73.55,69.6,73.8,69.15,75.55,69.25,76.2,69.2],
[52.15,68.6,53,68.85,54.6,69,53.6,68.7,53.9,68.25,54.85,68.2,55.6,68.5,57.4,68.55,58.3,68.9,59.25,69,59.35,68.5,59.85,68.35,60.9,69.05,60.25,69.75,59.95,69.95],
[60.65,69.85,62.55,69.75,65.85,69.1,67.85,68.5],[43.3,68.7,44.4,68.55,45.95,68.45,46.1,68.05,48.65,67.9,50,68.05,52.15,68.6],[44.85,67.5,45.3,67.35,46,67.05,45.95,66.85,47.6,66.9,47.85,67.6,49.05,67.65],[42.15,66.85,43,66.3,43.8,66.1,44.1,66],
[67.8,69.55,68.15,68.95,69.15,68.95,68.65,68.5,68.3,68.2,67.8,68.45],
[43.65,49.5,44.05,49.05,43.2,48.15,42.15,47.75],[44.55,48.55,45.05,49.5,45.5,50.2,46.05,51.5,47.8,52.15,48.45,52.85,49,53.5,49,54.05,48.45,54.35,49.05,55.5,51.6,55.5],
[81.15,53.95,81.7,54.3,82.4,54.55,83.05,54.8],[82.55,50.1,83.3,49.6,84.2,49.3,83.3,48.8,84.2,47.9,83.5,48],[83.05,47.2,83.85,47,85.5,47.2,85.6,48.05,86.25,48.45,86.8,48.95,88.1,49.3,88.6,48.3,90,47.95],[86.8,49.1,88.1,49.15,90,49.95],
[78.4,54.9,79,55.2,78.5,55.3,78,55.05],[71,50.5,71.4,50.8,70.7,50.8,70.5,50.2,71,50.5],[79.3,46.55,80,46.4,80.7,46.2,80.75,45.7,81.7,45.2],[75.4,56.25,76.1,55.9,77.5,55.1,77.95,55],
[56.6,46.85,58,46.9,59.5,47,60,46.6],[42.9,53.55,42.7,53.3,43.05,53.1,42.6,52.55],[27,59.2,27.9,58.6,28.2,58.3],[49.3,36.5,50,36.8,50.3,37]
];
const barbRows=[
[70,[20,155,1,22.5,155,1,25,155,1,27.5,155,1,30,155,1,32.5,155,1,35,155,1,37.5,155,1,40,155,1,42.5,160,1,45,140,1,47.5,137,1,50,131,1,52.5,135,1,55,135,1,57.5,135,1,60,135,1,62.5,150,1,65,145,1,70,150,1,72.5,150,1,75,150,1,77.5,155,1,80,160,1,82.5,135,1]],
[67.5,[22.5,140,1,25,140,1,27.5,130,1,30,135,1,32.5,142,1,35,150,1,37.5,150,1,40,150,1,42.5,150,1,45,120,1,47.5,133,1,50,135,1,52.5,135,1,55,135,1,57.5,135,1,60,135,2,62.5,135,2,65,135,2,67.5,135,2,70,140,1,72.5,140,1,75,135,1,77.5,125,1,80,135,1,82.5,125,1,85,100,1]],
[65,[25,100,1,27.5,115,1,30,148,1,32.5,165,1,35,150,1,37.5,180,1,40,160,1,42.5,140,1,45,105,1,47.5,90,1,50,100,1,52.5,115,1,55,115,2,57.5,118,2,60,118,2,62.5,120,2,65,115,1,67.5,120,2,70,118,2,72.5,115,2,75,115,2,77.5,115,1,80,125,1,82.5,130,1,85,130,1,87.5,112,1]],
[62.5,[25,355,1,27.5,280,1,32.5,178,1,35,190,1,37.5,178,1,40,200,1,42.5,135,1,45,65,1,47.5,65,2,50,70,2,52.5,125,2,55,135,1,57.5,130,1,60,115,2,62.5,110,1,65,105,1,67.5,115,2,70,115,2,72.5,115,2,75,120,1,77.5,115,1,80,120,1,82.5,130,2,85,125,2,87.5,120,2]],
[60,[22.5,310,1,25,290,1,27.5,294,1,30,280,1,35,240,1,37.5,210,1,40,240,1,45,310,1,47.5,310,1,50,310,1,52.5,225,1,60,110,1,62.5,125,1,65,125,1,67.5,130,1,70,130,1,72.5,130,1,75,130,1,77.5,130,1,80,130,1,82.5,130,1,85,130,1,87.5,130,1]],
[57.5,[22.5,273,1,25,270,1,27.5,270,2,30,270,2,32.5,270,2,35,265,2,37.5,262,2,40,258,1,45,295,2,47.5,320,1,50,320,1,52.5,340,1,55,345,1,57.5,225,1,65,178,1,67.5,160,1,70,155,1,72.5,178,1,75,180,1,77.5,175,1,80,155,1,82.5,150,1,85,150,1,87.5,145,1]],
[55,[22.5,260,2,25,260,2,27.5,262,2,30,258,2,32.5,262,2,35,270,2,37.5,262,2,40,265,2,42.5,270,2,45,285,2,47.5,295,2,50,305,2,52.5,310,2,55,295,1,60,275,2,62.5,275,1,65,265,1,67.5,255,1,70,235,1,72.5,220,1,75,220,2,77.5,230,1,80,235,1,82.5,235,1,85,190,1,87.5,205,1,90,255,1]],
[52.5,[22.5,255,1,25,255,2,27.5,260,2,30,260,2,32.5,255,2,35,255,2,37.5,260,2,40,262,2,42.5,270,2,45,295,2,47.5,300,1,50,303,1,52.5,295,2,55,293,2,57.5,280,2,60,285,2,62.5,285,2,65,268,2,67.5,268,2,70,255,2,72.5,245,2,75,245,2,77.5,245,1,80,240,1,82.5,250,1,85,250,2,87.5,270,2,90,245,2]],
[50,[22.5,255,2,25,250,1,27.5,260,1,30,262,1,32.5,270,1,35,255,1,37.5,240,2,40,238,1,42.5,262,1,45,290,1,47.5,300,1,50,300,1,52.5,300,2,55,295,2,57.5,290,2,60,285,2,62.5,280,2,65,273,2,67.5,272,2,70,262,2,72.5,262,2,75,265,2,77.5,255,1,80,245,1,82.5,270,1,87.5,258,1,90,268,1]],
[47.5,[22.5,270,1,25,278,1,27.5,290,1,30,332,1,32.5,322,1,35,218,1,37.5,200,1,40,183,1,42.5,195,1,45,275,1,47.5,310,1,50,305,1,52.5,305,1,55,305,1,57.5,300,1,60,293,2,62.5,282,2,65,278,2,67.5,270,2,70,262,2,72.5,265,2,75,265,2,77.5,262,1,80,262,1,82.5,262,2,85,280,1,87.5,285,1,90,270,1]],
[45,[22.5,322,1,25,340,1,27.5,5,1,30,8,1,32.5,230,1,37.5,120,1,40,130,1,42.5,135,1,45,170,1,47.5,225,1,50,272,1,52.5,285,1,55,285,1,57.5,280,1,60,275,2,62.5,278,1,65,282,1,70,257,1,72.5,250,2,75,250,2,77.5,250,1,80,250,1,82.5,235,1,85,235,1,87.5,240,1,90,290,1]],
[42.5,[22.5,358,1,25,5,1,27.5,7,1,30,18,1,32.5,85,1,35,130,1,37.5,185,1,40,205,1,45,205,1,47.5,215,1,50,210,1,52.5,235,1,55,255,2,57.5,270,1,60,270,2,62.5,270,1,65,285,2,67.5,305,1,70,235,1,72.5,240,1,85,305,1,87.5,270,1,90,285,1]],
[40,[20,18,1,22.5,358,1,25,3,1,27.5,6,1,30,345,1,32.5,325,1,35,195,1,37.5,200,1,40,207,1,42.5,195,1,47.5,215,1,50,220,1,52.5,225,1,55,245,1,57.5,270,1,60,300,1,62.5,330,1,65,340,1,70,240,1,77.5,240,1,80,270,1,82.5,175,1,85,70,1,87.5,355,1,90,210,1]],
[37.5,[22.5,345,1,25,350,1,27.5,347,1,30,35,1,32.5,140,1,37.5,198,1,40,218,1,42.5,240,1,45,215,1,47.5,205,1,50,200,1,52.5,190,1,55,205,1,60,350,1,62.5,3,1,65,3,1,67.5,350,1,72.5,270,1,77.5,130,1,80,70,1,82.5,335,1,85,270,1,87.5,310,1,90,355,1]],
[35,[22.5,345,1,25,345,1,27.5,330,1,30,310,1,32.5,245,1,35,215,1,37.5,210,1,40,210,2,42.5,220,1,45,270,1,47.5,187,1,50,185,1,52.5,175,1,57.5,50,1,60,40,1,62.5,40,1,65,20,1,70,250,1,72.5,305,1,80,30,1,82.5,40,1,85,330,1,87.5,330,1,90,340,1]],
[32.5,[22.5,330,1,25,320,1,27.5,295,1,30,283,1,32.5,245,1,35,225,1,37.5,210,2,40,215,1,42.5,220,1,45,250,1,47.5,250,2,50,195,1,52.5,55,1,55,55,1,57.5,37,1,60,50,1,62.5,70,1,65,10,1,67.5,270,1,70,295,1,72.5,330,1,75,315,1,77.5,235,1,80,335,1,82.5,25,1,87.5,15,1,90,350,1]],
[30,[22.5,320,1,25,303,1,27.5,295,1,30,285,1,47.5,350,1,50,355,1,52.5,355,1,55,30,1,57.5,25,1,60,25,1,62.5,45,1,67.5,295,1,70,335,1,72.5,325,1,75,320,1,77.5,320,1,85,340,1]]
];
const stations=[[".ULEMM",32.8,69.1],[".ULAA",40.75,65.3],[".EFHK",24.15,60.6],[".EETN",24.7,59.65],[".ULLI",30.5,59.95],[".ULWW",39.9,59.65],[".ULOO",28.5,58.05],[".ULDD",61.55,70],[".UUYS",57.5,66.3],[".USDD",66.55,66.75],[".UUYH",53.85,63.9],[".UUYY",50.85,61.9],[".ULKK",46.75,61.45],[".USPP",56.5,58.25],[".USMU",76.55,66.4],[".UOII",86.45,67.8],[".USRO",75.45,63.5],[".USRK",74.55,62.5],[".USNR",77.35,62.4],[".USRR",73.65,61.5],[".USHH",69.05,61.3],[".USNN",76.75,61.1],[".UWGG",43.85,56.5],[".UWKS",47.15,56.4],[".UWKE",52.15,55.9],[".UWKB",52.85,54.9],[".UWUU",55.9,54.9],[".UWLL",48.4,54.6],[".UWWW",50.25,53.8],[".UWPP",45.1,53.4],[".USCM",59.2,53.6],[".UAUU",63.5,53.5],[".UWSS",46.05,51.9],[".UARR",51.6,51.5],[".UWOO",55.55,52.1],[".UWOR",58.6,51.4],[".UATT",57.1,50.6],[".USTR",65.35,57.5],[".USSS",60,57],[".USCC",61.5,55.6],[".URWK",45.45,50.35],[".URWW",44.45,49.05],[".UATG",51.85,47.55],[".UATA",61.65,47.05],[".URWA",48.05,46.55],[".URWI",44.35,46.7],[".UAOL",63.15,46],[".URMT",42.15,45.4],[".UATF",50.25,44.9],[".UAOO",65.75,45],[".URMM",43.2,44.45],[".UATE",51.15,44.05],[".URMN",43.75,43.75],[".URML",47.65,43.05],[".UTNN",59.7,42.65],[".UGKO",42.6,42.45],[".UGTB",45,42],[".UNOO",73.4,55.25],[".UNNT",82.7,55.25],[".UACP",69.3,55.1],[".UACK",69.45,53.6],[".UNBB",83.55,53.7],[".UASP",77.15,52.4],[".UACC",71.55,51.3],[".UAKK",73.45,50.1],[".UAKD",67.75,48.1],[".UAAH",75.15,47.05],[".UADD",71.35,43.05],[".UAFM",74.95,43.15],[".UAII",69.55,42.55],[".UTTT",69.3,41.45],[".UTKN",71.65,41.3],[".UAFO",72.8,40.9],[".UTDL",69.75,40.5],[".UTDD",68.85,38.9],[".UTST",67.4,37.45],[".UTSS",67.1,40.05],[".EVRA",24.2,57.3],[".ULOL",30.65,56.6],[".UUEM",35.85,57],[".UUWW",37.5,55.9],[".EYVI",25.2,54.9],[".UUBS",32.3,55.1],[".UMMS",28.05,54.1],[".UMOO",30.15,54.2],[".UMMG",24.1,53.9],[".UUBP",34.15,53.6],[".UMGG",31.05,52.8],[".UMBB",23.8,52.35],[".UUOO",39.35,52.1],[".UKKK",30.55,50.8],[".UKLL",24,50.05],[".UUOB",36.65,50.9],[".UKLI",24.45,49.25],[".UKHH",36.15,49.35],[".UKKG",32.25,48.8],[".UKDD",35,48.9],[".UKCW",39.45,48.65],[".UKDE",35.05,48.1],[".URRR",39.85,47.6],[".LUKK",28.95,47.2],[".UKOO",30.75,46.7],[".URFF",34.15,45],[".URKA",37.35,45.2],[".URKK",39.25,45.25],[".URSS",39.85,43.65],[".LBSF",23.45,42.85],[".LBBG",27.55,42.75],[".LTBA",28.85,40.35],[".LCLK",33.75,35.15],[".UBBG",46.4,41],[".UDSG",43.85,41.1],[".UDYZ",44.45,40.35],[".UBBN",45.5,39.5],[".UBBB",50.2,40.65],[".UTAK",53.05,40.35],[".UTAA",58.45,38.3],[".UTSA",65.35,40.35],[".UTSB",64.7,40],[".UTAV",63.65,39.4],[".UTSK",65.65,39.1],[".UGSB",42.15,41.9]];
const storms=[[28.1,59.45],[39.9,57.9],[21.15,56.5],[21.35,56.7],[21.65,56.8],[37.3,53.95],[38.05,54.1],[38.35,54.15],[38.7,54.2],[39.15,43.9],[39.1,44.05],[39.25,43.8],[39.35,43.85],[42.95,56.55],[48.5,53.3],[48.7,53.35],[48.95,53.2],[49.2,53.15],[49.45,53.15],[48.4,53.25],[61.9,58.2],[62.4,57.65],[63.25,56.9],[64.35,58.1],[64.65,58.15],[65.7,58.05],[67,58.15],[69,58.65],[71.3,58.85],[68.05,58.1],[68.95,56.05],[69.3,55.85],[71.3,56.3],[70,55.15],[32.25,37.85],[31.35,37.05],[31.75,36.95],[32.05,36.8],[32.2,36.7],[34.5,38.35],[34.7,38.55],[35.45,37],[35.85,37],[36.15,39.75],[36.25,39.6],[39.3,41.2],[40.85,40.5],[41.6,40.75],[41.8,41.25],[41.85,42.4],[42.15,42.35],[43.85,41.7],[43,41.35],[43.1,41.3],[42.15,42.4]];
const titleText="Current thunderstorms (symbols), forecast TS prob (%)";
const footerLeft="Saved from URL http://meteocenter.net/fact/ts2.png";
const footerRight="Valid: 20260817 10Z";
const creditLeft="GrADS/COLA";
const creditRight="2026-08-17-10:01";

const pts=polys=>polys.flatMap((p,i)=>{const o=[];for(let k=0;k<p.length;k+=2)o.push({lon:p[k],lat:p[k+1],i});return o;});
const area=(polys,fill)=>Plot.line(pts(polys),{x:"lon",y:"lat",z:"i",fill,stroke:"none",clip:true,curve:"linear"});
const lines=(polys,stroke,strokeWidth)=>Plot.line(pts(polys),{x:"lon",y:"lat",z:"i",stroke,strokeWidth,clip:true,curve:"linear"});
const barbs=barbRows.flatMap(([lat,r])=>{const o=[];for(let k=0;k<r.length;k+=3)o.push({lon:r[k],lat,dir:r[k+1],n:r[k+2]});return o;});
const feather=(c,y)=>{c.moveTo(0,y);c.lineTo(17.5,y-5.7);};
const barb1={draw(c,l){c.moveTo(0,0);c.lineTo(0,-l);feather(c,-l);}};
const barb2={draw(c,l){c.moveTo(0,0);c.lineTo(0,-l);feather(c,-l);feather(c,-l+8);}};
const stormSym={draw(c){c.moveTo(-6.5,9);c.lineTo(-6.5,-9);c.lineTo(7,-9);c.lineTo(-1,-1);c.lineTo(6,8);c.moveTo(3,8);c.lineTo(7,8.5);c.lineTo(6.5,5);}};
const stationData=stations.map(([t,lon,lat])=>({t,lon,lat}));
const T=(t,lon,lat,fontSize,extra={})=>Plot.text([t],{x:()=>lon,y:()=>lat,text:d=>d,textAnchor:"start",fontSize,fill:"#333",...extra});
const chart=Plot.plot({width:3000,height:2000,marginLeft:136,marginRight:136,marginTop:193,marginBottom:194,
 x:{domain:[20,90]},y:{domain:[30,70]},
 style:{fontFamily:"Roboto",fontWeight:100,color:"#222",background:"#fff"},
 marks:[
 Plot.axisX({ticks:lonTicks,tickFormat:d=>d+"E",tickSize:12,tickPadding:3,fontSize:38,label:null,anchor:"bottom",strokeWidth:2}),
 Plot.axisY({ticks:latTicks,tickFormat:d=>d+"N",tickSize:12,tickPadding:10,fontSize:38,label:null,anchor:"left",strokeWidth:2}),
 area(prob40,probColors.p40),area(holes,"#fff"),area(prob50,probColors.p50),area(prob60,probColors.p60),area(prob70,probColors.p70),area(prob60Over,probColors.p60),area(prob70Over,probColors.p70),area(prob50Over,probColors.p50),area(prob80,probColors.p80),area(patch40,probColors.p40),area(patch0,"#fff"),
 Plot.ruleX(lonTicks.slice(1,-1),{stroke:"#b4b4b4",strokeWidth:1.3,strokeDasharray:"5 15"}),
 Plot.ruleY(latTicks.slice(1,-1),{stroke:"#b4b4b4",strokeWidth:1.3,strokeDasharray:"5 15"}),
 Plot.frame({stroke:"#000",strokeWidth:1.6}),
 ...legendBands.map(b=>Plot.line(pts([b.p]),{x:"lon",y:"lat",z:"i",fill:b.c,stroke:"#fff",strokeWidth:2})),
 Plot.text(legendLabels,{x:"lon",y:"lat",text:"t",rotate:"a",fontSize:40,fill:"#333"}),
 Plot.line(leaderLine,{x:"lon",y:"lat",stroke:"#000",strokeWidth:1.8}),
 lines(coast,"#b8b8b8",1.2),
 Plot.vector(barbs.filter(d=>d.n===1),{x:"lon",y:"lat",rotate:"dir",length:46,anchor:"start",shape:barb1,stroke:"#8a8a8a",strokeWidth:1.1,clip:true}),
 Plot.vector(barbs.filter(d=>d.n===2),{x:"lon",y:"lat",rotate:"dir",length:46,anchor:"start",shape:barb2,stroke:"#8a8a8a",strokeWidth:1.1,clip:true}),
 lines(isobars,"#b59489",2.5),
 Plot.text(stationData,{x:"lon",y:"lat",text:"t",textAnchor:"start",fontSize:18,fontWeight:300,fill:"#555"}),
 Plot.dot(storms,{x:d=>d[0],y:d=>d[1],symbol:stormSym,stroke:"#ff2f6e",strokeWidth:2.2,fill:"none",r:4}),
 Plot.text(isobarLabels,{x:"lon",y:"lat",text:"t",fontSize:24,fontWeight:400,fill:"#a8867c",stroke:"#fff",strokeWidth:7,clip:true}),
 T(titleText,23.68,71.62,80,{fill:"#3a3a3a"}),
 T(footerLeft,25.7,27.5,38),T(footerRight,70.4,27.5,38),T(creditLeft,16.9,25.78,34),T(creditRight,81.66,25.78,34)
 ]});
const lengths=new Map([[titleText,2445],[footerLeft,1421],[footerRight,549],[creditLeft,233],[creditRight,396]]);
chart.querySelectorAll("text").forEach(t=>{const s=t.textContent;
 if(lengths.has(s)){t.setAttribute("textLength",lengths.get(s));t.setAttribute("lengthAdjust","spacing");}
 else if(s.startsWith("."))t.style.letterSpacing="2.6px";
 else if(/^\d{3,4}$/.test(s))t.style.letterSpacing="1.5px";
 else if(/^\d+[EN]$/.test(s))t.style.letterSpacing="4px";
});
document.body.append(chart);
</script></body></html>
